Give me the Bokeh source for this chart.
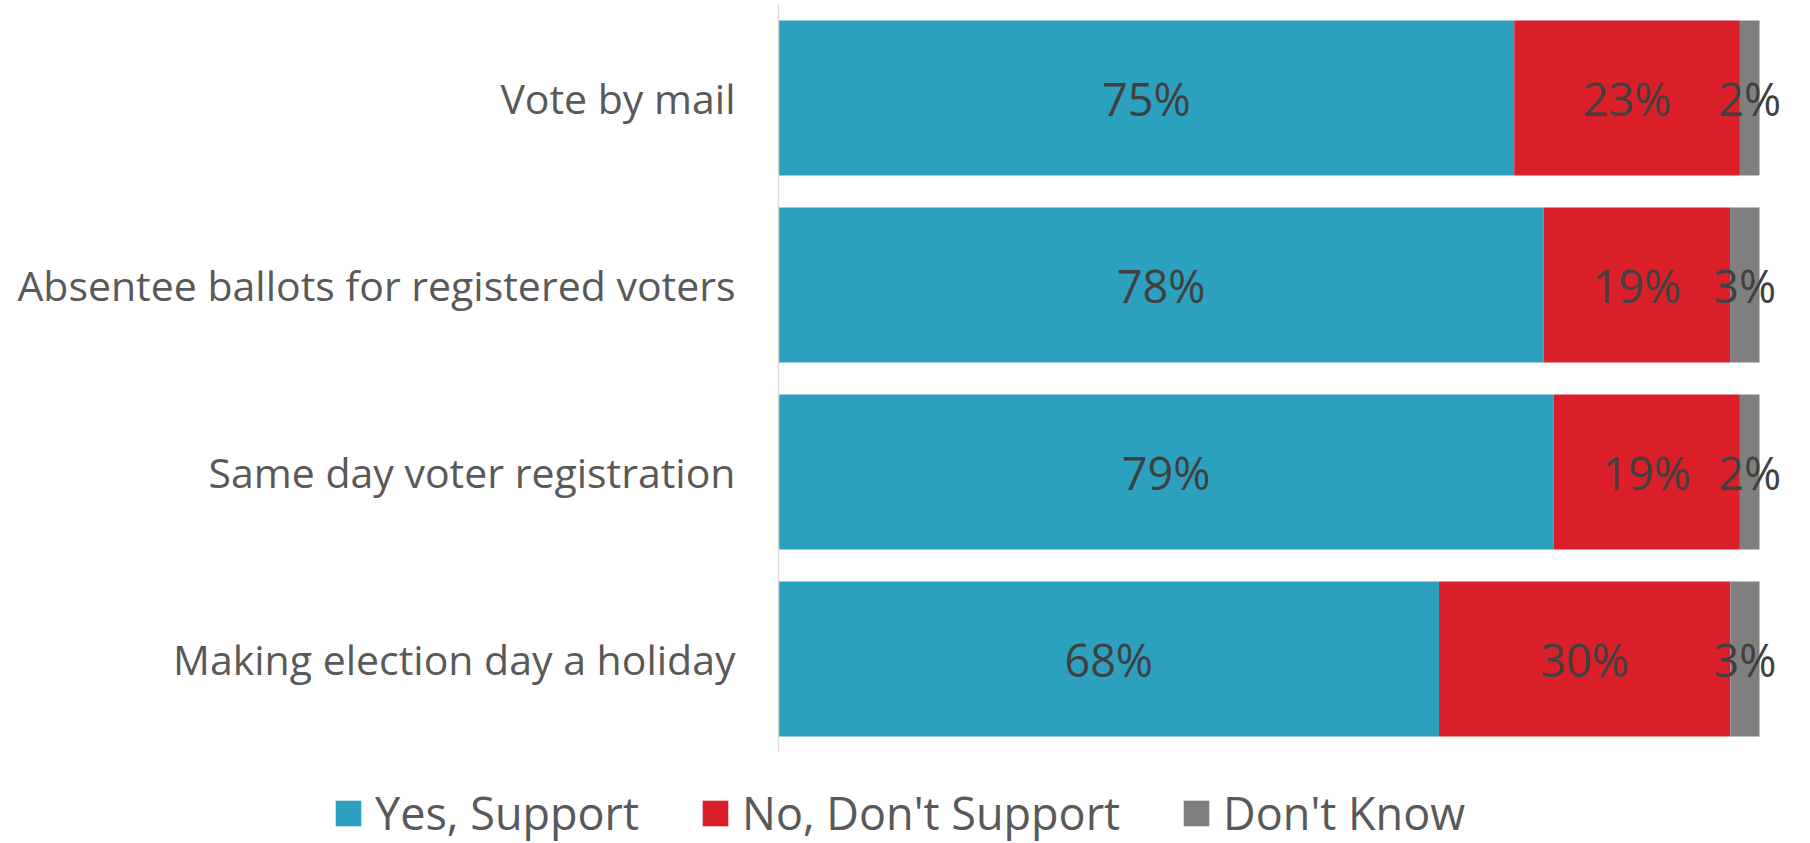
import numpy as np
from bokeh.plotting import figure
from bokeh.models import Range1d, FixedTicker, Legend, LegendItem, ColumnDataSource
from bokeh.core.properties import value
from bokeh.embed import file_html
from bokeh.resources import INLINE

categories = ["Vote by mail", "Absentee ballots for registered voters",
              "Same day voter registration", "Making election day a holiday"]
yes_support = [75, 78, 79, 68]
no_support = [23, 19, 19, 30]
dont_know = [2, 3, 2, 3]
series_names = ["Yes, Support", "No, Don't Support", "Don't Know"]
colors = ["#2CA1BF", "#DA1F28", "#7F7F7F"]

vals = np.array([yes_support, no_support, dont_know], dtype=float)
totals = vals.sum(axis=0)
shares = vals / totals * 100.0
cum = np.cumsum(shares, axis=0)
lefts = cum - shares

n = len(categories)
ypos = [n - 1 - i for i in range(n)]  # first category on top

W = 1810
FRAME_L = 778
p = figure(width=W, height=752, output_backend="svg", toolbar_location=None,
           x_range=Range1d(0, 100 * (W - FRAME_L) / 981), y_range=Range1d(-0.5, n - 0.5),
           min_border_left=FRAME_L, min_border_right=0, min_border_top=4, min_border_bottom=0)
p.outline_line_color = None
p.grid.visible = False
p.xaxis.visible = False

yax = p.yaxis[0]
yax.ticker = FixedTicker(ticks=ypos)
yax.major_label_overrides = {y: c for y, c in zip(ypos, categories)}
yax.major_label_text_font = "Open Sans"
yax.major_label_text_font_size = "41px"
yax.major_label_text_color = "#595959"
yax.major_label_standoff = 43
yax.major_tick_line_color = None
yax.minor_tick_line_color = None
yax.major_tick_out = 0
yax.major_tick_in = 0
yax.axis_line_color = "#D9D9D9"
yax.axis_line_width = 1.5

sources = []
for k in range(3):
    src = ColumnDataSource(dict(y=ypos, left=lefts[k], right=cum[k]))
    sources.append(src)
    p.hbar(y="y", left="left", right="right", height=0.83, source=src,
           fill_color=colors[k], line_color=None)
    lab = ColumnDataSource(dict(x=(lefts[k] + cum[k]) / 2, y=ypos,
                                t=[f"{int(v)}%" for v in vals[k]]))
    p.text(x="x", y="y", text="t", source=lab, text_align="center",
           text_baseline="middle", text_color="#404040",
           text_font=value("Open Sans"), text_font_size="45px")

# legend strip below the chart (its view range lies away from the bars)
p2 = figure(width=W, height=91, output_backend="svg", toolbar_location=None,
            x_range=Range1d(0, 100), y_range=Range1d(n + 10, n + 11),
            min_border_left=0, min_border_right=0, min_border_top=0, min_border_bottom=0)
p2.outline_line_color = None
p2.grid.visible = False
p2.axis.visible = False
leg_renderers = []
for k in range(3):
    r = p2.hbar(y="y", left="left", right="right", height=0.83, source=sources[k],
                fill_color=colors[k], line_color=None)
    leg_renderers.append(r)

legend = Legend(items=[LegendItem(label=series_names[k], renderers=[leg_renderers[k]]) for k in range(3)],
                orientation="horizontal", location=(332, 0))
legend.label_text_font = "Open Sans"
legend.label_text_font_size = "45px"
legend.label_text_color = "#595959"
legend.glyph_width = 32
legend.glyph_height = 32
legend.label_standoff = 11
legend.spacing = 60
legend.padding = 0
legend.margin = 0
legend.border_line_color = None
legend.background_fill_alpha = 0
p2.add_layout(legend, "center")

open("out.html", "w").write(file_html([p, p2], INLINE))
